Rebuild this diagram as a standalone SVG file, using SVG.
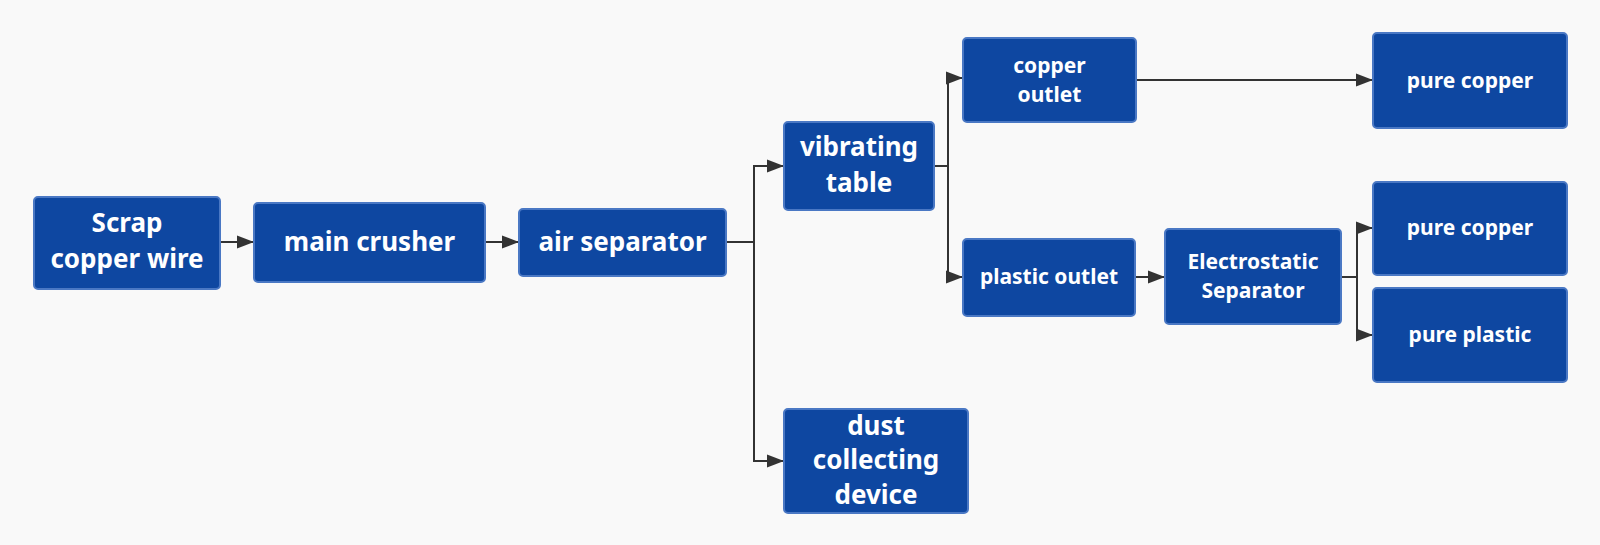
<svg xmlns="http://www.w3.org/2000/svg" width="1600" height="545" viewBox="0 0 1600 545">
<style>
.box{fill:#0e47a1;stroke:#4a78c4;stroke-width:2}
.t{fill:#ffffff;font-family:"Noto Sans","Open Sans",sans-serif;font-weight:bold;text-anchor:middle}
.b{font-size:26px}
.s{font-size:21px}
.c{fill:none;stroke:#333333;stroke-width:2}
</style>
<defs>
<marker id="ah" markerUnits="userSpaceOnUse" markerWidth="18" markerHeight="14" refX="17" refY="7" orient="auto">
<path d="M0,0.5 L17,7 L0,13.5 Z" fill="#333333"/>
</marker>
</defs>
<rect width="1600" height="545" fill="#f9f9f9"/>
<g id="connectors">
<path class="c" d="M220,242 H254" marker-end="url(#ah)"/>
<path class="c" d="M485,242 H519" marker-end="url(#ah)"/>
<path class="c" d="M726,242 H754 V166 H784" marker-end="url(#ah)"/>
<path class="c" d="M754,242 V461 H784" marker-end="url(#ah)"/>
<path class="c" d="M934,166 H948 V78 H963" marker-end="url(#ah)"/>
<path class="c" d="M948,166 V277 H963" marker-end="url(#ah)"/>
<path class="c" d="M1136,80 H1373" marker-end="url(#ah)"/>
<path class="c" d="M1135,277 H1165" marker-end="url(#ah)"/>
<path class="c" d="M1341,277 H1357 V228 H1373" marker-end="url(#ah)"/>
<path class="c" d="M1357,277 V335 H1373" marker-end="url(#ah)"/>
</g>
<g id="scrap"><rect class="box" x="34" y="197" width="186" height="92" rx="4"/><text class="t b" x="127" y="232">Scrap</text><text class="t b" x="127" y="268">copper wire</text></g>
<g id="crusher"><rect class="box" x="254" y="203" width="231" height="79" rx="4"/><text class="t b" x="369.5" y="251">main crusher</text></g>
<g id="airsep"><rect class="box" x="519" y="209" width="207" height="67" rx="4"/><text class="t b" x="622.5" y="251">air separator</text></g>
<g id="vibrating"><rect class="box" x="784" y="122" width="150" height="88" rx="4"/><text class="t b" x="859" y="156">vibrating</text><text class="t b" x="859" y="192">table</text></g>
<g id="dust"><rect class="box" x="784" y="409" width="184" height="104" rx="4"/><text class="t b" x="876" y="435">dust</text><text class="t b" x="876" y="469">collecting</text><text class="t b" x="876" y="504">device</text></g>
<g id="copperoutlet"><rect class="box" x="963" y="38" width="173" height="84" rx="4"/><text class="t s" x="1049.5" y="73">copper</text><text class="t s" x="1049.5" y="102">outlet</text></g>
<g id="purecopper1"><rect class="box" x="1373" y="33" width="194" height="95" rx="4"/><text class="t s" x="1470" y="88">pure copper</text></g>
<g id="plasticoutlet"><rect class="box" x="963" y="239" width="172" height="77" rx="4"/><text class="t s" x="1049" y="284">plastic outlet</text></g>
<g id="electrostatic"><rect class="box" x="1165" y="229" width="176" height="95" rx="4"/><text class="t s" x="1253" y="269">Electrostatic</text><text class="t s" x="1253" y="298">Separator</text></g>
<g id="purecopper2"><rect class="box" x="1373" y="182" width="194" height="93" rx="4"/><text class="t s" x="1470" y="235">pure copper</text></g>
<g id="pureplastic"><rect class="box" x="1373" y="288" width="194" height="94" rx="4"/><text class="t s" x="1470" y="342">pure plastic</text></g>
</svg>
